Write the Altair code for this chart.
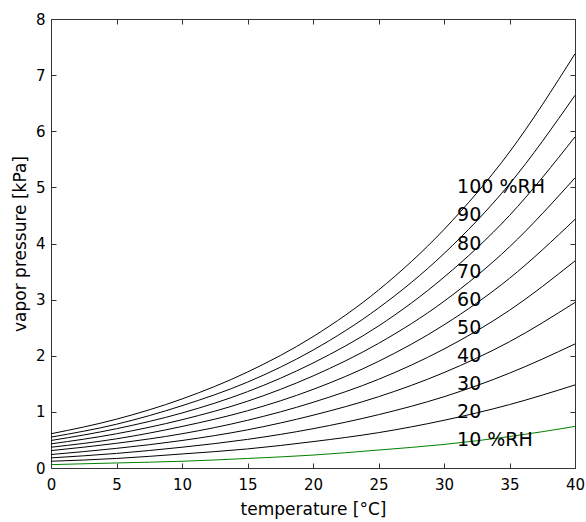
import altair as alt
import pandas as pd

# temperature grid [°C]
temps = [0, 5, 10, 15, 20, 25, 30, 35, 40]
rh_levels = [10, 20, 30, 40, 50, 60, 70, 80, 90, 100]

# vapor pressure [kPa]
vp_10 = [0.06, 0.09, 0.12, 0.17, 0.23, 0.32, 0.42, 0.56, 0.74]
vp_20 = [0.12, 0.17, 0.25, 0.34, 0.47, 0.63, 0.85, 1.13, 1.48]
vp_30 = [0.18, 0.26, 0.37, 0.51, 0.70, 0.95, 1.27, 1.69, 2.21]
vp_40 = [0.24, 0.35, 0.49, 0.68, 0.94, 1.27, 1.70, 2.25, 2.95]
vp_50 = [0.31, 0.44, 0.61, 0.85, 1.17, 1.58, 2.12, 2.81, 3.69]
vp_60 = [0.37, 0.52, 0.74, 1.02, 1.40, 1.90, 2.55, 3.38, 4.43]
vp_70 = [0.43, 0.61, 0.86, 1.19, 1.64, 2.22, 2.97, 3.94, 5.17]
vp_80 = [0.49, 0.70, 0.98, 1.36, 1.87, 2.53, 3.40, 4.50, 5.90]
vp_90 = [0.55, 0.78, 1.11, 1.53, 2.10, 2.85, 3.82, 5.06, 6.64]
vp_100 = [0.61, 0.87, 1.23, 1.71, 2.34, 3.17, 4.25, 5.63, 7.38]
series = [vp_10, vp_20, vp_30, vp_40, vp_50, vp_60, vp_70, vp_80, vp_90, vp_100]
curve_colors = ["#008000"] + ["#000000"] * 9

# curve annotations
label_text = ["100 %RH", "90", "80", "70", "60", "50", "40", "30", "20", "10 %RH"]
label_x = [31] * 10
label_y = [5.0, 4.5, 4.0, 3.5, 3.0, 2.5, 2.0, 1.5, 1.0, 0.5]

x_ticks = [0, 5, 10, 15, 20, 25, 30, 35, 40]
y_ticks = [0, 1, 2, 3, 4, 5, 6, 7, 8]

rows = []
for rh, vals in zip(rh_levels, series):
    for t, v in zip(temps, vals):
        rows.append({"temperature": t, "vp": v, "rh": str(rh)})
df = pd.DataFrame(rows)
labels_df = pd.DataFrame({"x": label_x, "y": label_y, "text": label_text})

W, H = 524, 449
FONT = "DejaVu Sans"
xs = alt.Scale(domain=[0, 40], nice=False, zero=False)
ys = alt.Scale(domain=[0, 8], nice=False, zero=False)

base = alt.Chart(df)

lines = base.mark_line(strokeWidth=1, interpolate="monotone").encode(
    x=alt.X("temperature:Q", scale=xs,
            axis=alt.Axis(title="temperature [°C]", values=x_ticks, ticks=False,
                          domain=False, grid=False, labelPadding=9,
                          labelFontSize=15, labelFont=FONT, labelColor="#000",
                          titleFont=FONT, titleFontSize=17, titleFontWeight="normal",
                          titleColor="#000", titlePadding=9, labelFlush=False)),
    y=alt.Y("vp:Q", scale=ys,
            axis=alt.Axis(title="vapor pressure [kPa]", values=y_ticks, ticks=False,
                          domain=False, grid=False, labelPadding=6,
                          labelFontSize=15, labelFont=FONT, labelColor="#000",
                          titleFont=FONT, titleFontSize=17, titleFontWeight="normal",
                          titleColor="#000", titlePadding=6, labelFlush=False)),
    color=alt.Color("rh:N", scale=alt.Scale(domain=[str(r) for r in rh_levels],
                                              range=curve_colors), legend=None),
    detail="rh:N",
)

tick_style = dict(labels=False, domain=False, grid=False, ticks=True, tickSize=5,
                  tickColor="#333", tickWidth=1, title=None)

# inward ticks on bottom and left edges
ticks_a = base.mark_line(opacity=0).encode(
    x=alt.X("temperature:Q", scale=xs,
            axis=alt.Axis(orient="top", offset=-H, values=x_ticks, **tick_style)),
    y=alt.Y("vp:Q", scale=ys,
            axis=alt.Axis(orient="right", offset=-W, values=y_ticks, **tick_style)),
    detail="rh:N",
)
# inward ticks on top and right edges
ticks_b = base.mark_line(opacity=0).encode(
    x=alt.X("temperature:Q", scale=xs,
            axis=alt.Axis(orient="bottom", offset=-H, values=x_ticks, **tick_style)),
    y=alt.Y("vp:Q", scale=ys,
            axis=alt.Axis(orient="left", offset=-W, values=y_ticks, **tick_style)),
    detail="rh:N",
)

texts = alt.Chart(labels_df).mark_text(
    align="left", baseline="middle", font=FONT, fontSize=19, color="#000"
).encode(
    x=alt.X("x:Q", scale=xs, axis=None),
    y=alt.Y("y:Q", scale=ys, axis=None),
    text="text:N",
)

chart = alt.layer(lines, ticks_a, ticks_b, texts).resolve_axis(
    x="independent", y="independent"
).properties(
    width=W, height=H,
    padding={"left": 51, "top": 19, "right": 11, "bottom": 54},
    autosize=alt.AutoSizeParams(type="none"),
    background="white",
).configure_view(stroke="#333", strokeWidth=1)

chart.save("out.html", embed_options={"renderer": "svg", "actions": False})
